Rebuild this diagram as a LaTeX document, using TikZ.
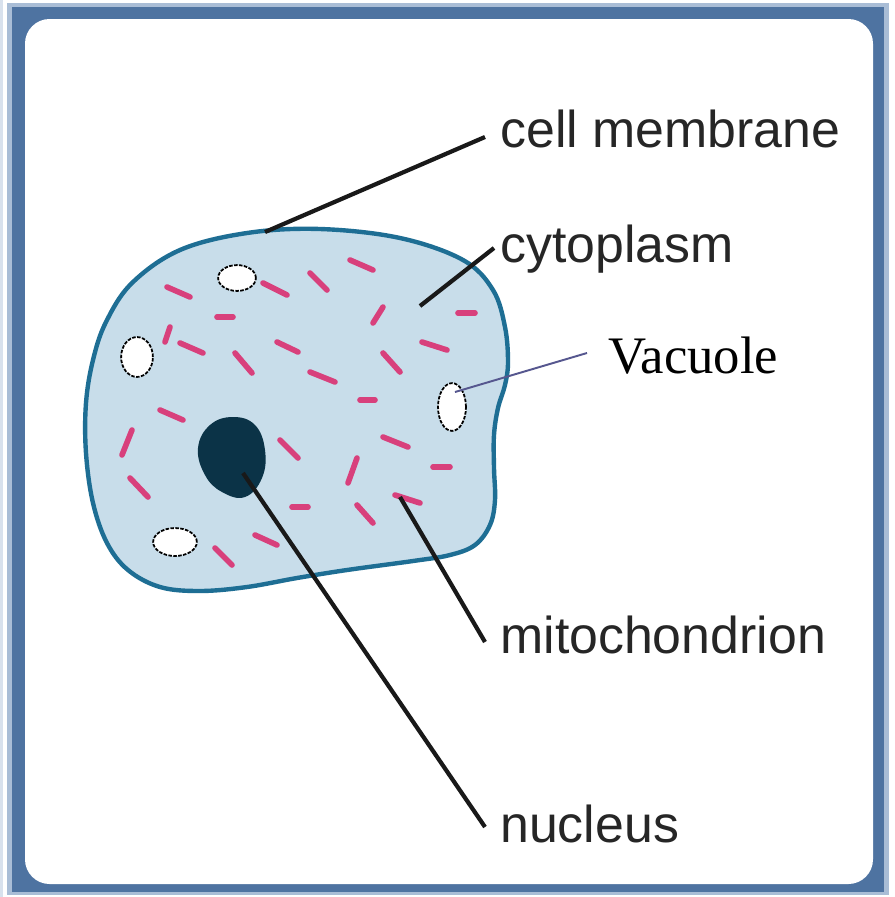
\documentclass[tikz,border=0pt]{standalone}
\usepackage{fontspec}
\setmainfont{Liberation Serif}
\newfontfamily\etiqfont{Liberation Sans}
\usepackage{tkz-euclide}
\usetikzlibrary{shapes.geometric}

\definecolor{marco}{HTML}{4E73A1}
\definecolor{marcoclaro}{HTML}{A9BDD6}
\definecolor{citoplasma}{HTML}{C8DDEA}
\definecolor{membrana}{HTML}{1E6E94}
\definecolor{mitocondria}{HTML}{D8407C}
\definecolor{nucleo}{HTML}{0B3347}
\definecolor{texto}{HTML}{262626}
\definecolor{flecha}{HTML}{56578F}

\begin{document}
\begin{tikzpicture}[x=0.02cm,y=-0.02cm,
    etiqueta/.style={font=\etiqfont\fontsize{29.5}{34}\selectfont,
        text=texto, inner sep=0pt, anchor=base west},
    vacuola/.style={ellipse, draw=black, fill=white, line width=1pt,
        dash pattern=on 2pt off 0.8pt, inner sep=0pt},
    mito/.style={mitocondria, line width=3.2pt, line cap=round},
    indicador/.style={line width=2.4pt, black!90}]
        \useasboundingbox (0,0) rectangle (895,897);

        % Paso 1: Dibuja el marco azul con esquinas redondeadas
        \fill[white] (0,0) rectangle (895,897);
        \fill[marcoclaro!45] (0,0) rectangle (3,897);
        \fill[marcoclaro] (7,3) rectangle (889,895);
        \fill[marco] (12,7) rectangle (884,892);
        \fill[white, rounded corners=14] (25,19) rectangle (873,884);

        % Paso 2: Dibuja la membrana y rellena el citoplasma
        \draw[membrana, line width=2.5pt, fill=citoplasma]
            plot[smooth cycle, tension=0.6] coordinates {
            (247,233) (320,229) (400,238) (463,260) (493,290) (505,327)
            (508,362) (505,385) (498,408) (494,435) (494,468) (495,500)
            (490,525) (475,545) (450,555) (413,561) (347,570) (297,578)
            (247,587) (200,591) (160,587) (128,570) (107,543) (93,503)
            (86,453) (86,403) (93,360) (106,322) (132,283) (180,250)};

        % Paso 3: Dibuja las mitocondrias como trazos cortos
        \foreach \xa/\ya/\xb/\yb in {
            167/287/190/297, 217/317/233/317, 263/283/287/295,
            310/273/327/290, 350/260/373/270, 170/327/165/342,
            180/343/203/353, 235/353/252/373, 277/342/298/352,
            310/372/335/382, 373/323/383/307, 383/353/400/372,
            422/342/447/350, 458/313/475/313, 360/400/375/400,
            160/410/183/420, 132/430/122/455, 130/478/148/497,
            280/440/298/458, 383/437/408/447, 357/458/348/483,
            433/467/450/467, 395/495/420/503, 357/505/373/523,
            292/507/308/507, 255/535/277/545, 215/548/232/565}
            \draw[mito] (\xa,\ya) -- (\xb,\yb);

        % Paso 4: Dibuja el nucleo
        \fill[nucleo] plot[smooth cycle, tension=0.7] coordinates {
            (233,417) (255,425) (265,450) (262,478) (245,497)
            (222,492) (205,475) (198,448) (210,425)};

        % Paso 5: Dibuja las vacuolas
        \node[vacuola, minimum width=21.5pt, minimum height=14.7pt] (vacA) at (237,278) {};
        \node[vacuola, minimum width=18.1pt, minimum height=22.7pt] (vacB) at (137,357) {};
        \node[vacuola, minimum width=15.9pt, minimum height=27.2pt] (vacC) at (452,407) {};
        \node[vacuola, minimum width=24.9pt, minimum height=15.9pt] (vacD) at (175,542) {};

        % Paso 6: Define los puntos de las lineas indicadoras
        \tkzDefPoint(265,232){M}  \tkzDefPoint(485,137){Mt}
        \tkzDefPoint(420,306){C}  \tkzDefPoint(494,248){Ct}
        \tkzDefPoint(455,392){V}  \tkzDefPoint(587,353){Vt}
        \tkzDefPoint(400,497){K}  \tkzDefPoint(485,642){Kt}
        \tkzDefPoint(243,473){N}  \tkzDefPoint(485,827){Nt}

        % Paso 7: Dibuja las lineas indicadoras
        \draw[indicador] (M) -- (Mt);
        \draw[indicador] (C) -- (Ct);
        \draw[indicador] (K) -- (Kt);
        \draw[indicador] (N) -- (Nt);
        \draw[line width=1.1pt, flecha] (V) -- (Vt);

        % Paso 8: Escribe las etiquetas
        \node[etiqueta] (lmembrana) at (500,147) {cell membrane};
        \node[etiqueta] (lcitoplasma) at (500,262) {cytoplasm};
        \node[font=\fontsize{30}{34}\selectfont, inner sep=0pt,
            anchor=base west] (lvacuola) at (608,373) {Vacuole};
        \node[etiqueta] (lmito) at (500,653) {mitochondrion};
        \node[etiqueta] (lnucleo) at (500,842) {nucleus};
    \end{tikzpicture}
\end{document}
